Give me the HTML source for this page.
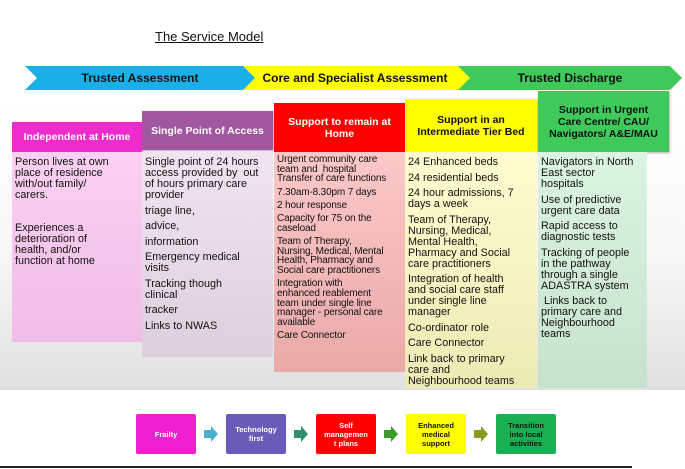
<!DOCTYPE html>
<html><head><meta charset="utf-8"><style>
body{margin:0;width:685px;height:469px;background:#fff;position:relative;overflow:hidden;font-family:"Liberation Sans","DejaVu Sans",sans-serif;color:#111}
.a{position:absolute;box-sizing:border-box}
.h{color:#fff;font-weight:bold;font-size:10.5px;text-align:center;display:flex;align-items:center;justify-content:center;line-height:12px;box-shadow:1px 1px 2px rgba(0,0,0,.3)}
.b{font-size:10.8px;line-height:11px;padding:5px 2px 0 3px;white-space:nowrap}
.b p{margin:0 0 4.5px 0}
.c{font-weight:bold;font-size:12px;display:flex;align-items:center;justify-content:center}
.f{font-size:7.5px;font-weight:bold;text-align:center;display:flex;align-items:center;justify-content:center;line-height:9px;border-radius:2px;width:60px;height:40px;top:414px}
</style></head><body>
<div class="a" style="left:155px;top:29px;font-size:13px;text-decoration:underline">The Service Model</div>
<div class="a" style="left:0;top:95px;width:685px;height:295px;background:linear-gradient(#fff 0%,#f7f7f7 55%,#e0e0e0 100%)"></div>
<svg class="a" style="left:0;top:0" width="685" height="100">
<polygon points="455,66 670,66 682,78 670,90 455,90 467,78" fill="#3ec95a"/>
<polygon points="240,66 458,66 470,78 458,90 240,90 252,78" fill="#ffff00"/>
<polygon points="25,66 243,66 255,78 243,90 25,90 37,78" fill="#19b0ea"/>
</svg>
<div class="a c" style="left:40px;top:66px;width:200px;height:24px">Trusted Assessment</div>
<div class="a c" style="left:245px;top:66px;width:220px;height:24px">Core and Specialist Assessment</div>
<div class="a c" style="left:470px;top:66px;width:200px;height:24px">Trusted Discharge</div>

<div class="a h" style="left:12px;top:122px;width:130px;height:30px;background:#ee2ccc">Independent at Home</div>
<div class="a b" style="left:12px;top:152px;width:130px;height:190px;background:linear-gradient(#fbd0f2,#f0bde6)"><p>Person lives at own<br>place of residence<br>with/out family/<br>carers.</p><p style="margin-top:22px">Experiences a<br>deterioration of<br>health, and/or<br>function at home</p></div>

<div class="a h" style="left:142px;top:111px;width:131px;height:39px;background:#a0579d">Single Point of Access</div>
<div class="a b" style="left:142px;top:152px;width:131px;height:205px;background:linear-gradient(#f0e4f0,#ddd0dc)"><p>Single point of 24 hours<br>access provided by&nbsp; out<br>of hours primary care<br>provider</p><p>triage line,</p><p>advice,</p><p>information</p><p>Emergency medical<br>visits</p><p>Tracking though<br>clinical</p><p>tracker</p><p>Links to NWAS</p></div>

<div class="a h" style="left:274px;top:103px;width:131px;height:49px;background:#ff0000">Support to remain at<br>Home</div>
<div class="a b" style="left:274px;top:152px;width:131px;height:220px;background:linear-gradient(#fcc8c8,#eaa9a9);font-size:10px;line-height:9.7px;padding-top:3px;letter-spacing:-0.15px"><p style="margin-bottom:3.5px">Urgent community care<br>team and&nbsp; hospital<br>Transfer of care functions</p><p style="margin-bottom:3.5px">7.30am-8.30pm 7 days</p><p style="margin-bottom:3.5px">2 hour response</p><p style="margin-bottom:3.5px">Capacity for 75 on the<br>caseload</p><p style="margin-bottom:3.5px">Team of Therapy,<br>Nursing, Medical, Mental<br>Health, Pharmacy and<br>Social care practitioners</p><p style="margin-bottom:3.5px">Integration with<br>enhanced reablement<br>team under single line<br>manager - personal care<br>available</p><p>Care Connector</p></div>

<div class="a h" style="left:405px;top:99px;width:132px;height:53px;background:#ffff00;color:#111">Support in an<br>Intermediate Tier Bed</div>
<div class="a b" style="left:405px;top:152px;width:132px;height:236px;background:linear-gradient(#fffdd0,#ecebb4)"><p>24 Enhanced beds</p><p>24 residential beds</p><p>24 hour admissions, 7<br>days a week</p><p>Team of Therapy,<br>Nursing, Medical,<br>Mental Health,<br>Pharmacy and Social<br>care practitioners</p><p>Integration of health<br>and social care staff<br>under single line<br>manager</p><p>Co-ordinator role</p><p>Care Connector</p><p>Link back to primary<br>care and<br>Neighbourhood teams</p></div>

<div class="a h" style="left:538px;top:91px;width:131px;height:61px;background:#3ec95a;color:#111">Support in Urgent<br>Care Centre/ CAU/<br>Navigators/ A&amp;E/MAU</div>
<div class="a b" style="left:538px;top:152px;width:109px;height:236px;background:linear-gradient(#dcf4e2,#c6e2cd)"><p>Navigators in North<br>East sector<br>hospitals</p><p>Use of predictive<br>urgent care data</p><p>Rapid access to<br>diagnostic tests</p><p>Tracking of people<br>in the pathway<br>through a single<br>ADASTRA system</p><p>&nbsp;Links back to<br>primary care and<br>Neighbourhood<br>teams</p></div>

<div class="a f" style="left:136px;background:#f020d0;color:#fff">Frailty</div>
<div class="a f" style="left:226px;background:#6a5bb8;color:#fff">Technology<br>first</div>
<div class="a f" style="left:316px;background:#ff0000;color:#fff">Self<br>managemen<br>t plans</div>
<div class="a f" style="left:406px;background:#ffff00">Enhanced<br>medical<br>support</div>
<div class="a f" style="left:496px;background:#18b050">Transition<br>into local<br>activities</div>
<svg class="a" style="left:0;top:424px" width="685" height="20">
<polygon points="204,6 211,6 211,2 218,10 211,18 211,14 204,14" fill="#4bb0d0"/>
<polygon points="294,6 301,6 301,2 308,10 301,18 301,14 294,14" fill="#2f8f6f"/>
<polygon points="384,6 391,6 391,2 398,10 391,18 391,14 384,14" fill="#3a9a2a"/>
<polygon points="474,6 481,6 481,2 488,10 481,18 481,14 474,14" fill="#8a9a20"/>
</svg>
<div class="a" style="left:0;top:466px;width:632px;height:2px;background:#222"></div>
</body></html>
